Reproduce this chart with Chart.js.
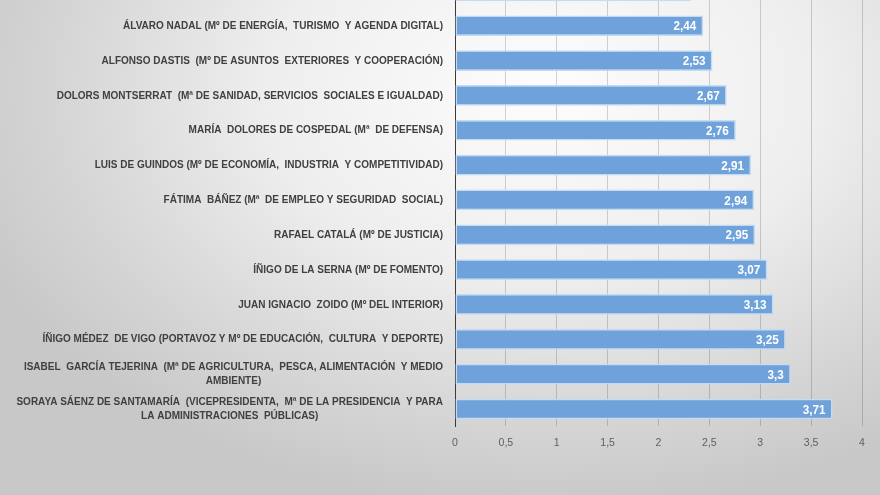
<!DOCTYPE html>
<html>
<head>
<meta charset="utf-8">
<script src="https://cdn.jsdelivr.net/npm/chart.js@4"></script>
<style>
  html, body { margin: 0; padding: 0; }
  body {
    width: 880px; height: 495px; overflow: hidden; position: relative;
    background: radial-gradient(ellipse 70% 85% at 62% 18%, #fdfdfd 0%, #eeeeee 45%, #d6d6d6 78%, #c8c8c8 100%);
  }
  #wrap { position: absolute; left: 0; top: -52px; width: 880px; height: 540px; }
</style>
</head>
<body>
<div id="wrap"><canvas id="chart"></canvas></div>
<script>
// ministers, from the top of the chart down (the first one is cut off at the top edge)
const ministers = [
  "CRISTÓBAL MONTORO (Mº DE HACIENDA Y FUNCIÓN PÚBLICA)",
  "ÁLVARO NADAL (Mº DE ENERGÍA,  TURISMO  Y AGENDA DIGITAL)",
  "ALFONSO DASTIS  (Mº DE ASUNTOS  EXTERIORES  Y COOPERACIÓN)",
  "DOLORS MONTSERRAT  (Mª DE SANIDAD, SERVICIOS  SOCIALES E IGUALDAD)",
  "MARÍA  DOLORES DE COSPEDAL (Mª  DE DEFENSA)",
  "LUIS DE GUINDOS (Mº DE ECONOMÍA,  INDUSTRIA  Y COMPETITIVIDAD)",
  "FÁTIMA  BÁÑEZ (Mª  DE EMPLEO Y SEGURIDAD  SOCIAL)",
  "RAFAEL CATALÁ (Mº DE JUSTICIA)",
  "ÍÑIGO DE LA SERNA (Mº DE FOMENTO)",
  "JUAN IGNACIO  ZOIDO (Mº DEL INTERIOR)",
  "ÍÑIGO MÉDEZ  DE VIGO (PORTAVOZ Y Mº DE EDUCACIÓN,  CULTURA  Y DEPORTE)",
  ["ISABEL  GARCÍA TEJERINA  (Mª DE AGRICULTURA,  PESCA, ALIMENTACIÓN  Y MEDIO", "AMBIENTE)"],
  ["SORAYA SÁENZ DE SANTAMARÍA  (VICEPRESIDENTA,  Mª DE LA PRESIDENCIA  Y PARA", "LA ADMINISTRACIONES  PÚBLICAS)"]
];
const scores = [2.32, 2.44, 2.53, 2.67, 2.76, 2.91, 2.94, 2.95, 3.07, 3.13, 3.25, 3.3, 3.71];
const xTicks = [0, 0.5, 1, 1.5, 2, 2.5, 3, 3.5, 4];

const comma = (v) => String(v).replace(".", ",");
const FONT = "'Liberation Sans', Arial, sans-serif";

// value labels inside the end of each bar
const barValues = {
  id: "barValues",
  afterDatasetsDraw(chart) {
    const ctx = chart.ctx;
    const meta = chart.getDatasetMeta(0);
    ctx.save();
    ctx.font = "bold 13px " + FONT;
    ctx.fillStyle = "#ffffff";
    ctx.textAlign = "right";
    ctx.textBaseline = "middle";
    meta.data.forEach((bar, i) => {
      ctx.save();
      ctx.translate(bar.x - 7, bar.y + 1);
      ctx.scale(0.9, 1);
      ctx.fillText(comma(scores[i]), 0, 0);
      ctx.restore();
    });
    ctx.restore();
  }
};

// category labels: narrow bold caps, right aligned to the axis,
// wrapped lines centred under the first one
const ministerLabels = {
  id: "ministerLabels",
  afterDraw(chart) {
    const ctx = chart.ctx;
    const y = chart.scales.y;
    const right = y.right - 12;
    const squeeze = 0.87;
    const lineH = 14;
    ctx.save();
    ctx.font = "bold 11.5px " + FONT;
    ctx.fillStyle = "#404040";
    ctx.textBaseline = "middle";
    ministers.forEach((label, i) => {
      const lines = Array.isArray(label) ? label : [label];
      const cy = y.getPixelForValue(i);
      const w0 = ctx.measureText(lines[0]).width * squeeze;
      const center = right - w0 / 2;
      lines.forEach((line, k) => {
        const ly = cy + (k - (lines.length - 1) / 2) * lineH;
        ctx.save();
        ctx.translate(center, ly);
        ctx.scale(squeeze, 1);
        ctx.textAlign = "center";
        ctx.fillText(line, 0, 0);
        ctx.restore();
      });
    });
    ctx.restore();
  }
};

new Chart(document.getElementById("chart"), {
  type: "bar",
  data: {
    labels: ministers,
    datasets: [{
      data: scores,
      backgroundColor: "#6fa2da",
      borderColor: "#c4dcf3",
      borderWidth: 1.5,
      borderSkipped: false,
      barPercentage: 0.66,
      categoryPercentage: 0.9
    }]
  },
  options: {
    indexAxis: "y",
    responsive: true,
    maintainAspectRatio: false,
    animation: false,
    layout: { padding: { top: 25.5, left: 5, right: 18, bottom: 29 } },
    plugins: { legend: { display: false }, tooltip: { enabled: false } },
    scales: {
      x: {
        min: 0,
        max: 4,
        afterBuildTicks: (scale) => { scale.ticks = xTicks.map((v) => ({ value: v })); },
        grid: { color: "rgba(0,0,0,0.17)", lineWidth: 1, drawTicks: false },
        border: { display: false },
        ticks: {
          padding: 10,
          color: "#5f5f5f",
          font: { family: FONT, size: 10.5 },
          callback: (v) => comma(v)
        }
      },
      y: {
        afterFit: (scale) => { scale.width = 450; },
        grid: { display: false, drawTicks: false },
        border: { display: true, color: "#3a3a3a", width: 1 },
        ticks: { display: false }
      }
    }
  },
  plugins: [barValues, ministerLabels]
});
</script>
</body>
</html>
